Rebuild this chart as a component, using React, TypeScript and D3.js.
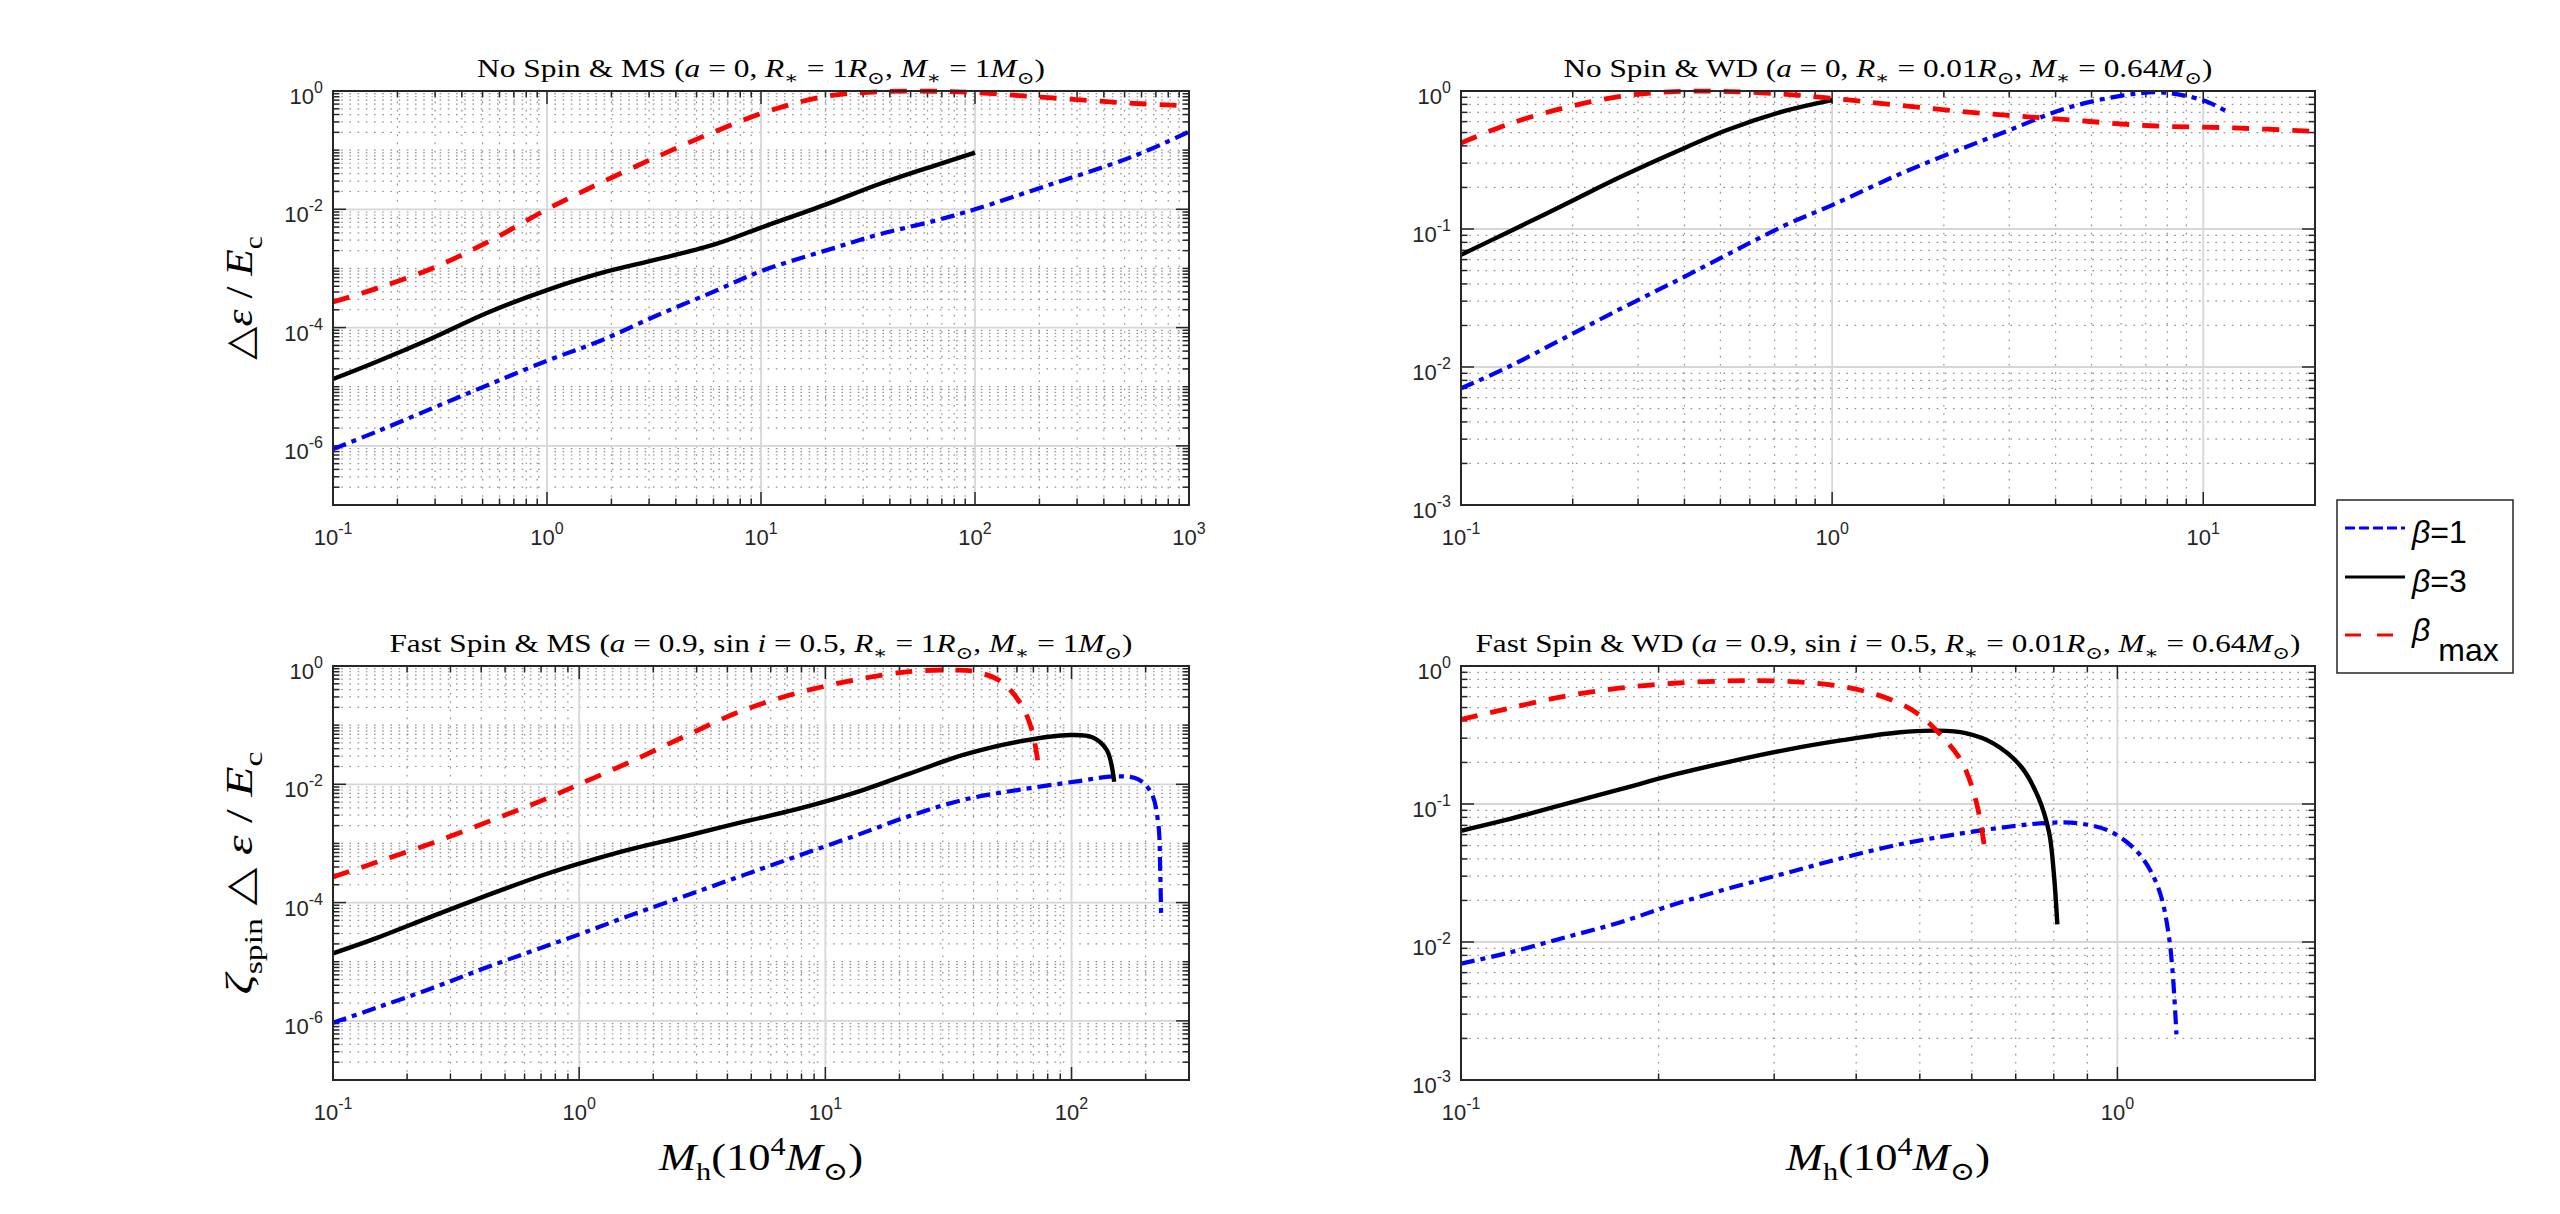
import React, { useEffect, useRef } from "react";
import * as d3 from "d3";

type Pt = [number, number];

// No Spin & MS  (x: Mh in 1e4 Msun, y: delta eps / Ec)
const msNoSpinB1: Pt[] = [
  [0.1, 8.8e-7], [0.16, 1.74e-6], [0.29, 4.3e-6], [0.53, 1.07e-5], [1, 2.75e-5],
  [1.78, 6.0e-5], [3.26, 1.6e-4], [5.96, 4.0e-4], [10, 9.0e-4], [20, 2.0e-3],
  [36, 3.8e-3], [66, 6.5e-3], [100, 1.0e-2], [221, 2.57e-2], [546, 7.8e-2], [1000, 0.205],
];
const msNoSpinB3: Pt[] = [
  [0.1, 1.35e-5], [0.16, 2.65e-5], [0.29, 6.6e-5], [0.53, 1.8e-4], [1, 4.3e-4],
  [1.78, 8.3e-4], [3.26, 1.42e-3], [5.96, 2.5e-3], [10, 4.9e-3], [20, 1.2e-2],
  [36, 2.7e-2], [66, 5.6e-2], [100, 9.1e-2],
];
const msNoSpinBmax: Pt[] = [
  [0.1, 2.7e-4], [0.16, 4.6e-4], [0.29, 1.0e-3], [0.53, 2.8e-3], [1, 1.0e-2],
  [1.78, 2.8e-2], [3.26, 7.7e-2], [5.96, 0.2], [10.9, 0.46], [20, 0.81],
  [36, 0.97], [66, 0.99], [100, 0.94], [221, 0.77], [546, 0.62], [1000, 0.56],
];

// No Spin & WD
const wdNoSpinB1: Pt[] = [
  [0.1, 0.007], [0.133, 0.0099], [0.188, 0.016], [0.266, 0.026], [0.377, 0.0416],
  [0.53, 0.0667], [0.75, 0.107], [1, 0.149], [1.5, 0.246], [2.13, 0.363], [3.0, 0.52],
  [4.27, 0.75], [6.04, 0.925], [7.45, 0.98], [8.55, 0.946], [10.2, 0.84], [11.7, 0.7],
];
const wdNoSpinB3: Pt[] = [
  [0.1, 0.065], [0.133, 0.094], [0.188, 0.148], [0.266, 0.235], [0.377, 0.36],
  [0.53, 0.53], [0.75, 0.72], [1, 0.86],
];
const wdNoSpinBmax: Pt[] = [
  [0.1, 0.42], [0.133, 0.57], [0.188, 0.75], [0.266, 0.91], [0.377, 0.99], [0.53, 0.99],
  [0.75, 0.946], [1, 0.885], [1.5, 0.79], [2.53, 0.69], [4.27, 0.62], [7.2, 0.56],
  [12.1, 0.54], [20, 0.51],
];

// Fast Spin & MS
const msFastB1: Pt[] = [
  [0.1, 9.3e-7], [0.15, 1.66e-6], [0.254, 3.6e-6], [0.43, 8.3e-6], [1, 2.9e-5],
  [1.58, 5.9e-5], [2.67, 1.28e-4], [4.5, 2.77e-4], [7.6, 6.0e-4], [12.9, 1.3e-3],
  [21.8, 2.87e-3], [36.6, 5.5e-3], [61.6, 8.1e-3], [105, 0.0112], [150, 0.0136],
  [186, 0.0122], [211, 7.1e-3], [225, 2.2e-3], [229, 4e-4], [231, 6.7e-5],
];
const msFastB3: Pt[] = [
  [0.1, 1.38e-5], [0.15, 2.5e-5], [0.254, 5.9e-5], [0.43, 1.36e-4], [0.72, 2.95e-4],
  [1, 4.55e-4], [1.58, 7.8e-4], [2.67, 1.31e-3], [4.5, 2.25e-3], [7.6, 3.75e-3],
  [12.9, 7.0e-3], [21.8, 0.015], [36.6, 0.0316], [61.6, 0.053], [99, 0.068],
  [122, 0.062], [139, 0.038], [149, 0.011],
];
const msFastBmax: Pt[] = [
  [0.1, 2.7e-4], [0.15, 4.8e-4], [0.254, 1.02e-3], [0.43, 2.36e-3], [0.72, 5.5e-3],
  [1, 0.01], [1.58, 0.023], [2.67, 0.064], [4.5, 0.17], [7.6, 0.345], [12.9, 0.57],
  [21.8, 0.8], [33, 0.855], [40.8, 0.8], [51.5, 0.55], [62, 0.234], [69, 0.083], [73.4, 0.02],
];

// Fast Spin & WD
const wdFastB1: Pt[] = [
  [0.1, 6.97e-3], [0.1175, 8.3e-3], [0.143, 0.0107], [0.174, 0.0138], [0.211, 0.0187],
  [0.257, 0.0246], [0.313, 0.0316], [0.381, 0.0406], [0.463, 0.0507], [0.564, 0.06],
  [0.687, 0.0687], [0.8, 0.0734], [0.885, 0.0718], [0.977, 0.063], [1.077, 0.044],
  [1.153, 0.025], [1.2, 0.0104], [1.23, 2.14e-3],
];
const wdFastB3: Pt[] = [
  [0.1, 0.064], [0.1175, 0.077], [0.143, 0.099], [0.174, 0.127], [0.211, 0.163],
  [0.257, 0.203], [0.313, 0.247], [0.381, 0.29], [0.463, 0.33], [0.532, 0.34],
  [0.587, 0.326], [0.647, 0.275], [0.713, 0.187], [0.757, 0.113], [0.787, 0.062],
  [0.8, 0.0316], [0.81, 0.0134],
];
const wdFastBmax: Pt[] = [
  [0.1, 0.41], [0.1175, 0.49], [0.143, 0.6], [0.174, 0.69], [0.211, 0.75], [0.257, 0.78],
  [0.3, 0.78], [0.366, 0.73], [0.43, 0.62], [0.49, 0.47], [0.54, 0.31], [0.58, 0.2],
  [0.61, 0.102], [0.628, 0.047],
];

// ticks & domains
const xTicksNoSpinMS = [0.1, 1, 10, 100, 1000];
const xTicksNoSpinWD = [0.1, 1, 10];
const xTicksFastMS = [0.1, 1, 10, 100];
const xTicksFastWD = [0.1, 1];
const yTicksMS = [1e-6, 1e-4, 1e-2, 1];
const yTicksWD = [1e-3, 1e-2, 1e-1, 1];

const legendLabels = ["β=1", "β=3", "β"];

type Tok = { s: string; it?: boolean; sub?: boolean; sup?: boolean };

const titleNoSpinMS: Tok[] = [
  { s: "No Spin & MS (" }, { s: "a", it: true }, { s: " = 0, " },
  { s: "R", it: true }, { s: "∗", sub: true }, { s: " = 1" }, { s: "R", it: true }, { s: "⊙", sub: true },
  { s: ", " }, { s: "M", it: true }, { s: "∗", sub: true }, { s: " = 1" }, { s: "M", it: true }, { s: "⊙", sub: true },
  { s: ")" },
];
const titleNoSpinWD: Tok[] = [
  { s: "No Spin & WD (" }, { s: "a", it: true }, { s: " = 0, " },
  { s: "R", it: true }, { s: "∗", sub: true }, { s: " = 0.01" }, { s: "R", it: true }, { s: "⊙", sub: true },
  { s: ", " }, { s: "M", it: true }, { s: "∗", sub: true }, { s: " = 0.64" }, { s: "M", it: true }, { s: "⊙", sub: true },
  { s: ")" },
];
const titleFastMS: Tok[] = [
  { s: "Fast Spin & MS (" }, { s: "a", it: true }, { s: " = 0.9, sin " }, { s: "i", it: true }, { s: " = 0.5, " },
  { s: "R", it: true }, { s: "∗", sub: true }, { s: " = 1" }, { s: "R", it: true }, { s: "⊙", sub: true },
  { s: ", " }, { s: "M", it: true }, { s: "∗", sub: true }, { s: " = 1" }, { s: "M", it: true }, { s: "⊙", sub: true },
  { s: ")" },
];
const titleFastWD: Tok[] = [
  { s: "Fast Spin & WD (" }, { s: "a", it: true }, { s: " = 0.9, sin " }, { s: "i", it: true }, { s: " = 0.5, " },
  { s: "R", it: true }, { s: "∗", sub: true }, { s: " = 0.01" }, { s: "R", it: true }, { s: "⊙", sub: true },
  { s: ", " }, { s: "M", it: true }, { s: "∗", sub: true }, { s: " = 0.64" }, { s: "M", it: true }, { s: "⊙", sub: true },
  { s: ")" },
];
const yLabelTop: Tok[] = [{ s: "△" }, { s: "ε", it: true }, { s: " / " }, { s: "E", it: true }, { s: "c", sub: true }];
const yLabelBottom: Tok[] = [
  { s: "ζ", it: true }, { s: "spin", sub: true }, { s: " △ " }, { s: "ε", it: true }, { s: " / " },
  { s: "E", it: true }, { s: "c", sub: true },
];
const xLabel: Tok[] = [
  { s: "M", it: true }, { s: "h", sub: true }, { s: "(10" }, { s: "4", sup: true },
  { s: "M", it: true }, { s: "⊙", sub: true }, { s: ")" },
];

const panels = [
  {
    box: { l: 333, r: 1189, t: 91, b: 505 }, xDom: [0.1, 1000], yDom: [1e-7, 1],
    xTicks: xTicksNoSpinMS, yTicks: yTicksMS, series: [msNoSpinB1, msNoSpinB3, msNoSpinBmax],
    title: titleNoSpinMS, titleW: 568, yLab: yLabelTop, yLabW: 124, xLab: false,
  },
  {
    box: { l: 1461, r: 2315, t: 91, b: 505 }, xDom: [0.1, 20], yDom: [1e-3, 1],
    xTicks: xTicksNoSpinWD, yTicks: yTicksWD, series: [wdNoSpinB1, wdNoSpinB3, wdNoSpinBmax],
    title: titleNoSpinWD, titleW: 649, yLab: null, yLabW: 0, xLab: false,
  },
  {
    box: { l: 333, r: 1189, t: 666, b: 1080 }, xDom: [0.1, 300], yDom: [1e-7, 1],
    xTicks: xTicksFastMS, yTicks: yTicksMS, series: [msFastB1, msFastB3, msFastBmax],
    title: titleFastMS, titleW: 743, yLab: yLabelBottom, yLabW: 243, xLab: true,
  },
  {
    box: { l: 1461, r: 2315, t: 666, b: 1080 }, xDom: [0.1, 2], yDom: [1e-3, 1],
    xTicks: xTicksFastWD, yTicks: yTicksWD, series: [wdFastB1, wdFastB3, wdFastBmax],
    title: titleFastWD, titleW: 825, yLab: null, yLabW: 0, xLab: true,
  },
];

const styles = [
  { color: "#0000ff", width: 4.2, dash: "14,6,5,6" },
  { color: "#000000", width: 4.4, dash: "" },
  { color: "#ff0000", width: 4.8, dash: "17,13" },
];

const AX = "#262626";

function minorValues(dom: number[], majors: number[]) {
  const out: number[] = [];
  const lo = Math.floor(Math.log10(dom[0]));
  const hi = Math.ceil(Math.log10(dom[1]));
  for (let n = lo; n <= hi; n++) {
    for (let k = 1; k <= 9; k++) {
      const v = +(k * Math.pow(10, n)).toPrecision(6);
      if (v <= dom[0] * 1.0001 || v >= dom[1] * 0.9999) continue;
      if (majors.some(m => Math.abs(m - v) / m < 1e-6)) continue;
      out.push(v);
    }
  }
  return out;
}

function rich(sel: any, toks: Tok[], size: number) {
  let off = 0;
  toks.forEach(t => {
    const target = t.sub ? size * 0.26 : t.sup ? -size * 0.4 : 0;
    sel.append("tspan")
      .attr("dy", target - off)
      .attr("font-size", t.sub || t.sup ? size * 0.68 : size)
      .attr("font-style", t.it ? "italic" : "normal")
      .text(t.s);
    off = target;
  });
}

const App: React.FC = () => {
  const svgRef = useRef<SVGSVGElement | null>(null);

  useEffect(() => {
    const svg = d3.select(svgRef.current);
    svg.selectAll("*").remove();
    svg.append("rect").attr("width", 2560).attr("height", 1214).attr("fill", "#ffffff");

    panels.forEach((p, pi) => {
      const { l, r, t, b } = p.box;
      const x = d3.scaleLog().domain(p.xDom).range([l, r]);
      const y = d3.scaleLog().domain(p.yDom).range([b, t]);
      const xMinor = minorValues(p.xDom, p.xTicks);
      const yMinor = minorValues(p.yDom, p.yTicks);
      const g = svg.append("g");

      // minor grid (dotted)
      g.selectAll(".ymg").data(yMinor).enter().append("line")
        .attr("x1", l).attr("x2", r).attr("y1", d => y(d)).attr("y2", d => y(d))
        .attr("stroke", "#8f8f8f").attr("stroke-width", 1.2).attr("stroke-dasharray", "1.6,6.6");
      g.selectAll(".xmg").data(xMinor).enter().append("line")
        .attr("y1", b).attr("y2", t).attr("x1", d => x(d)).attr("x2", d => x(d))
        .attr("stroke", "#8f8f8f").attr("stroke-width", 1.2).attr("stroke-dasharray", "1.6,6.6");

      // major grid
      g.selectAll(".ygd").data(p.yTicks.filter(v => v > p.yDom[0] && v < p.yDom[1])).enter().append("line")
        .attr("x1", l).attr("x2", r).attr("y1", d => y(d)).attr("y2", d => y(d))
        .attr("stroke", "#d6d6d6").attr("stroke-width", 1.8);
      g.selectAll(".xgd").data(p.xTicks.filter(v => v > p.xDom[0] && v < p.xDom[1])).enter().append("line")
        .attr("y1", b).attr("y2", t).attr("x1", d => x(d)).attr("x2", d => x(d))
        .attr("stroke", "#d6d6d6").attr("stroke-width", 1.8);

      // ticks on all four sides, pointing in
      const tick = (vals: number[], len: number) => {
        vals.forEach(v => {
          const xv = x(v);
          g.append("line").attr("x1", xv).attr("x2", xv).attr("y1", b).attr("y2", b - len).attr("stroke", AX).attr("stroke-width", 1.5);
          g.append("line").attr("x1", xv).attr("x2", xv).attr("y1", t).attr("y2", t + len).attr("stroke", AX).attr("stroke-width", 1.5);
        });
      };
      const ytick = (vals: number[], len: number) => {
        vals.forEach(v => {
          const yv = y(v);
          g.append("line").attr("y1", yv).attr("y2", yv).attr("x1", l).attr("x2", l + len).attr("stroke", AX).attr("stroke-width", 1.5);
          g.append("line").attr("y1", yv).attr("y2", yv).attr("x1", r).attr("x2", r - len).attr("stroke", AX).attr("stroke-width", 1.5);
        });
      };
      tick(xMinor, 6.5);
      tick(p.xTicks, 13);
      ytick(yMinor, 6.5);
      ytick(p.yTicks, 13);

      // curves
      const clipId = `clip${pi}`;
      svg.append("clipPath").attr("id", clipId).append("rect")
        .attr("x", l).attr("y", t - 3).attr("width", r - l).attr("height", b - t + 3);
      const line = d3.line<Pt>().x(d => x(d[0])).y(d => y(d[1])).curve(d3.curveCatmullRom.alpha(0.5));
      p.series.forEach((s, si) => {
        g.append("path").attr("d", line(s) as string)
          .attr("clip-path", `url(#${clipId})`)
          .attr("fill", "none").attr("stroke", styles[si].color)
          .attr("stroke-width", styles[si].width)
          .attr("stroke-dasharray", styles[si].dash || null)
          .attr("stroke-linejoin", "round");
      });

      // box
      g.append("rect").attr("x", l).attr("y", t).attr("width", r - l).attr("height", b - t)
        .attr("fill", "none").attr("stroke", AX).attr("stroke-width", 2);

      // tick labels
      p.xTicks.forEach(v => {
        const txt = g.append("text").attr("x", x(v)).attr("y", b + 40)
          .attr("text-anchor", "middle").attr("fill", AX)
          .attr("font-family", "Liberation Sans, Arial, sans-serif").attr("font-size", 22);
        txt.append("tspan").text("10");
        txt.append("tspan").attr("dy", -11).attr("font-size", 16).text(String(Math.round(Math.log10(v))));
      });
      p.yTicks.forEach(v => {
        const txt = g.append("text").attr("x", l - 10).attr("y", y(v) + 13)
          .attr("text-anchor", "end").attr("fill", AX)
          .attr("font-family", "Liberation Sans, Arial, sans-serif").attr("font-size", 22);
        txt.append("tspan").text("10");
        txt.append("tspan").attr("dy", -11).attr("font-size", 16).text(String(Math.round(Math.log10(v))));
      });

      // title
      const title = g.append("text").attr("x", (l + r) / 2).attr("y", t - 14)
        .attr("text-anchor", "middle").attr("fill", "#000")
        .attr("font-family", "Liberation Serif, DejaVu Serif, serif")
        .attr("textLength", p.titleW).attr("lengthAdjust", "spacingAndGlyphs")
        .style("white-space", "pre");
      rich(title, p.title, 26);

      // y label
      if (p.yLab) {
        const yl = g.append("text")
          .attr("transform", `translate(252, ${(t + b) / 2}) rotate(-90)`)
          .attr("text-anchor", "middle").attr("fill", "#000")
          .attr("font-family", "Liberation Serif, DejaVu Serif, serif")
          .attr("textLength", p.yLabW).attr("lengthAdjust", "spacingAndGlyphs")
          .style("white-space", "pre");
        rich(yl, p.yLab, 38);
      }

      // x label
      if (p.xLab) {
        const xl = g.append("text").attr("x", (l + r) / 2).attr("y", 1170)
          .attr("text-anchor", "middle").attr("fill", "#000")
          .attr("font-family", "Liberation Serif, DejaVu Serif, serif")
          .attr("textLength", 204).attr("lengthAdjust", "spacingAndGlyphs")
          .style("white-space", "pre");
        rich(xl, xLabel, 38);
      }
    });

    // legend
    const lg = svg.append("g");
    lg.append("rect").attr("x", 2337).attr("y", 500).attr("width", 176).attr("height", 173)
      .attr("fill", "#fff").attr("stroke", AX).attr("stroke-width", 1.5);
    const rows = [528, 577, 635];
    const legendDash = ["10,4", "", "16,16"];
    rows.forEach((ry, i) => {
      lg.append("line").attr("x1", 2345).attr("x2", 2405).attr("y1", ry).attr("y2", ry)
        .attr("stroke", styles[i].color).attr("stroke-width", 3)
        .attr("stroke-dasharray", legendDash[i] || null);
      const txt = lg.append("text").attr("x", 2412).attr("y", i < 2 ? ry + 15 : ry + 6)
        .attr("fill", "#000").attr("font-family", "Liberation Sans, Arial, sans-serif").attr("font-size", 32);
      const lab = legendLabels[i];
      txt.append("tspan").attr("font-style", "italic").text(lab.slice(0, 1));
      if (i < 2) txt.append("tspan").text(lab.slice(1));
      else txt.append("tspan").attr("dx", 8).attr("dy", 20).text("max");
    });
  }, []);

  return (
    <div style={{ position: "absolute", left: 0, top: 0, width: 2560, height: 1214 }}>
      <svg ref={svgRef} width={2560} height={1214} style={{ display: "block" }}></svg>
    </div>
  );
};

export default App;
